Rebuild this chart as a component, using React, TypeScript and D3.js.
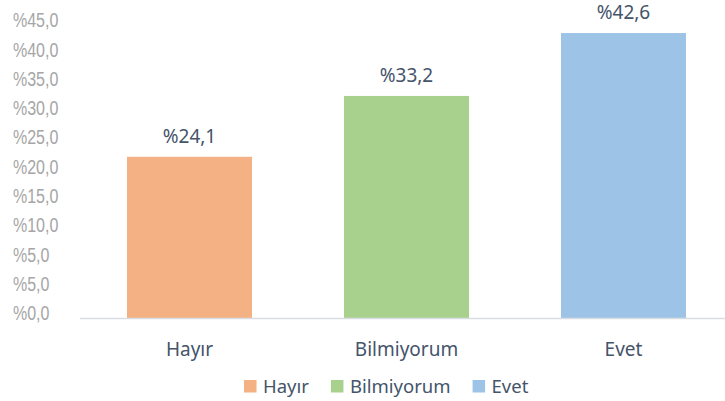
import { useEffect, useRef } from 'react';
import * as d3 from 'd3';

// veri
const categories = ['Hayır', 'Bilmiyorum', 'Evet'];
const values = [24.1, 33.2, 42.6];
const colors = ['#f4b183', '#a9d18e', '#9dc3e6'];
// eksen etiketleri (orijinaldeki gibi, alttan üste)
const tickLabels = ['%0,0', '%5,0', '%5,0', '%10,0', '%15,0', '%20,0', '%25,0', '%30,0', '%35,0', '%40,0', '%45,0'];

const W = 725;
const H = 401;
const fmt = (v: number) => '%' + v.toFixed(1).replace('.', ',');

export default function App() {
  const svgRef = useRef<SVGSVGElement | null>(null);

  useEffect(() => {
    if (!svgRef.current) return;
    const svg = d3.select(svgRef.current);
    svg.selectAll('*').remove();

    const x = d3.scaleBand<string>()
      .domain(categories)
      .range([81, 732])
      .paddingInner(0.424)
      .paddingOuter(0.212);

    const y = d3.scaleLinear().domain([0, 45]).range([318, 17]);

    // etiket konumları
    const yTicks = d3.scalePoint<number>()
      .domain(tickLabels.map((_, i) => i))
      .range([313, 20]);

    const ticks = svg.append('g');
    ticks.selectAll('text')
      .data(tickLabels)
      .join('text')
      .attr('transform', (_, i) => `translate(13,${yTicks(i)}) scale(0.8,1)`)
      .attr('dy', '0.36em')
      .attr('font-family', '"Liberation Sans", Arial, sans-serif')
      .attr('font-size', 20)
      .attr('fill', '#a6a6a6')
      .text(d => d);

    // çubuklar
    svg.append('g')
      .selectAll('rect')
      .data(values)
      .join('rect')
      .attr('x', (_, i) => x(categories[i])!)
      .attr('y', d => y(d))
      .attr('width', x.bandwidth())
      .attr('height', d => y(0) - y(d))
      .attr('fill', (_, i) => colors[i]);

    // x ekseni çizgisi
    svg.append('line')
      .attr('x1', 80)
      .attr('x2', W)
      .attr('y1', y(0) + 0.5)
      .attr('y2', y(0) + 0.5)
      .attr('stroke', '#d9dde3')
      .attr('stroke-width', 1.5);

    // değer etiketleri
    svg.append('g')
      .selectAll('text')
      .data(values)
      .join('text')
      .attr('x', (_, i) => x(categories[i])! + x.bandwidth() / 2)
      .attr('y', d => y(d) - 14)
      .attr('text-anchor', 'middle')
      .attr('font-family', '"Noto Sans", sans-serif')
      .attr('font-size', 19)
      .attr('fill', '#44546a')
      .text(d => fmt(d));

    // kategori etiketleri
    svg.append('g')
      .selectAll('text')
      .data(categories)
      .join('text')
      .attr('x', d => x(d)! + x.bandwidth() / 2)
      .attr('y', 356)
      .attr('text-anchor', 'middle')
      .attr('font-family', '"Noto Sans", sans-serif')
      .attr('font-size', 19)
      .attr('fill', '#44546a')
      .text(d => d);

    // lejant
    const legend = svg.append('g');
    let lx = 244;
    categories.forEach((c, i) => {
      const item = legend.append('g').attr('transform', `translate(${lx},380)`);
      item.append('rect')
        .attr('width', 12.5)
        .attr('height', 12.5)
        .attr('fill', colors[i]);
      const t = item.append('text')
        .attr('x', 19)
        .attr('y', 13)
        .attr('font-family', '"Noto Sans", sans-serif')
        .attr('font-size', 18.5)
        .attr('fill', '#44546a')
        .text(c);
      const tw = (t.node() as SVGTextElement).getComputedTextLength();
      lx += 19 + tw + 22;
    });
  }, []);

  return (
    <svg
      ref={svgRef}
      width={W}
      height={H}
      style={{ position: 'absolute', left: 0, top: 0, background: '#fff', display: 'block' }}
    />
  );
}
